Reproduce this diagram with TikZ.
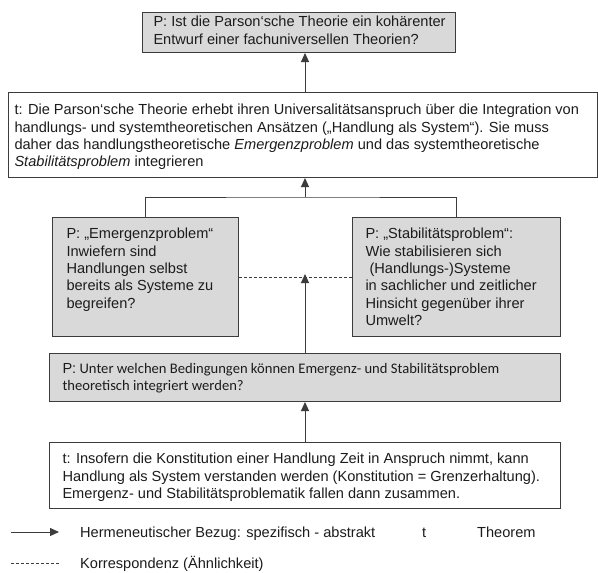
\documentclass[tikz,border=0pt]{standalone}
\usepackage{fontspec}
\setmainfont{Liberation Sans}
\newfontfamily\carlitofont{Carlito}
\usetikzlibrary{arrows.meta}
\definecolor{diagink}{HTML}{1C1C1C}
\definecolor{diagline}{HTML}{3C3C3C}
\definecolor{diaggray}{HTML}{D9D9D9}
\newcommand{\boxlines}[5]{%
  \parbox[c][#2][t]{#1}{\raggedright\leftskip=#3\relax
    \vspace*{\dimexpr#4-12.11pt\relax}\strut#5}}
\tikzset{
  probbox/.style={draw=diagline,fill=diaggray,line width=1pt,anchor=north west,inner sep=0pt},
  thmbox/.style={probbox,fill=white},
  bezug/.style={draw=diagline,line width=1pt,-{Triangle[length=9pt,width=8pt]}},
  korr/.style={draw=diagline,line width=.7pt,dash pattern=on 3pt off 2pt},
  legtext/.style={anchor=base west,inner sep=0pt}
}

\begin{document}
\begin{tikzpicture}[x=1pt,y=-1pt,font=\fontsize{14.6}{17.3}\selectfont,text=diagink]
        \useasboundingbox[fill=white] (0,0) rectangle (598,573);
        \node[probbox] (quest) at (142,12)
          {\boxlines{313pt}{40pt}{11pt}{14.3pt}{P: Ist die Parson‘sche Theorie ein kohärenter\\Entwurf einer fachuniversellen Theorien?}};
        \node[thmbox] (integ) at (8,92)
          {\boxlines{589pt}{85pt}{6pt}{22.3pt}{t: Die Parson‘sche Theorie erhebt ihren Universalitätsanspruch über die Integration von\\handlungs- und systemtheoretischen Ansätzen („Handlung als System“). Sie muss\\daher das handlungstheoretische \textit{Emergenzproblem} und das systemtheoretische\\\textit{Stabilitätsproblem} integrieren}};
        \node[probbox] (emerg) at (52,217)
          {\boxlines{186pt}{119pt}{14pt}{21.3pt}{P: „Emergenzproblem“\\Inwiefern sind\\Handlungen selbst\\bereits als Systeme zu\\begreifen?}};
        \node[probbox] (stabil) at (352,217)
          {\boxlines{208pt}{119pt}{13pt}{21.3pt}{P: „Stabilitätsproblem“:\\Wie stabilisieren sich\\\hspace*{4pt}(Handlungs-)Systeme\\in sachlicher und zeitlicher\\Hinsicht gegenüber ihrer\\Umwelt?}};
        \node[probbox] (beding) at (49,353)
          {\boxlines{511pt}{48pt}{13pt}{19.8pt}{P:\carlitofont{} Unter welchen Bedingungen können Emergenz- und Stabilitätsproblem\\theoretisch integriert werden?}};
        \node[thmbox] (konst) at (49,442)
          {\boxlines{511pt}{66pt}{13pt}{21.3pt}{t: Insofern die Konstitution einer Handlung Zeit in Anspruch nimmt, kann\\Handlung als System verstanden werden (Konstitution = Grenzerhaltung).\\Emergenz- und Stabilitätsproblematik fallen dann zusammen.}};
        \coordinate (join) at (305,197);
        \draw[bezug] (konst.north -| join) -- (beding.south -| join);
        \draw[bezug,shorten >=-3pt] (beding.north -| join) -- (emerg.east -| join);
        \draw[korr] (emerg.east) -- (stabil.west |- emerg.east);
        \draw[draw=diagline,line width=1pt] (emerg.north) |- (join) -| (stabil.north);
        \draw[bezug] (join) -- (integ.south -| join);
        \draw[bezug] (integ.north -| join) -- (quest.south -| join);
        \coordinate (arrowstart) at (11,532);
        \coordinate (arrowend) at (59,532);
        \coordinate (dashstart) at (11,563);
        \coordinate (dashend) at (59,563);
        \draw[bezug] (arrowstart) -- (arrowend);
        \draw[korr] (dashstart) -- (dashend);
        \node[legtext] (legbezug) at (80,537.2) {Hermeneutischer Bezug: spezifisch - abstrakt};
        \node[legtext] (legt) at (422,537.2) {t};
        \node[legtext] (legtheorem) at (477,537.2) {Theorem};
        \node[legtext] (legkorr) at (80,568.2) {Korrespondenz (Ähnlichkeit)};
      \end{tikzpicture}
\end{document}
